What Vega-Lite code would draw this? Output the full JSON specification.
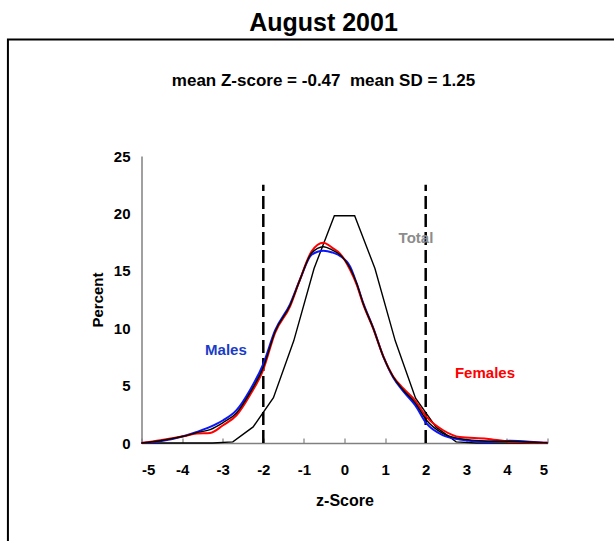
{
  "$schema": "https://vega.github.io/schema/vega-lite/v6.json",
  "width": 406,
  "height": 287,
  "autosize": {"type": "none"},
  "padding": {"left": 141.5, "top": 156, "right": 66.5, "bottom": 98},
  "background": "white",
  "config": {"view": {"stroke": null}, "font": "Liberation Sans"},
  "title": {
    "text": "August 2001",
    "subtitle": "mean Z-score = -0.47\u00a0 mean SD = 1.25",
    "anchor": "middle",
    "frame": "group",
    "dx": -21,
    "font": "Liberation Sans",
    "fontSize": 25,
    "fontWeight": "bold",
    "color": "black",
    "subtitleFont": "Liberation Sans",
    "subtitleFontSize": 17,
    "subtitleFontWeight": "bold",
    "subtitleColor": "black",
    "subtitlePadding": 37,
    "offset": -50
  },
  "datasets": {
    "frame": [{"x": -8.29, "x2": 10, "y": 35.14, "y2": -15}],
    "cut": [{"z": -2, "bottom": 0, "top": 22.5}, {"z": 2, "bottom": 0, "top": 22.5}],
    "normal": [
      {"z": -5, "pct": 0}, {"z": -3.25, "pct": 0}, {"z": -2.75, "pct": 0.1},
      {"z": -2.25, "pct": 1.4}, {"z": -1.75, "pct": 3.95}, {"z": -1.25, "pct": 8.9},
      {"z": -0.75, "pct": 15.2}, {"z": -0.25, "pct": 19.8}, {"z": 0.25, "pct": 19.8},
      {"z": 0.75, "pct": 15.2}, {"z": 1.25, "pct": 8.9}, {"z": 1.75, "pct": 3.9},
      {"z": 2.25, "pct": 1.4}, {"z": 2.75, "pct": 0.1}, {"z": 3.25, "pct": 0}, {"z": 5, "pct": 0}
    ],
    "curves": [
      {"z": -5, "M": 0.0, "F": 0.0, "T": 0.0},
      {"z": -4.54, "M": 0.15, "F": 0.24, "T": 0.2},
      {"z": -3.97, "M": 0.59, "F": 0.59, "T": 0.59},
      {"z": -3.64, "M": 0.96, "F": 0.82, "T": 0.9},
      {"z": -3.31, "M": 1.4, "F": 0.87, "T": 1.17},
      {"z": -2.99, "M": 1.98, "F": 1.55, "T": 1.78},
      {"z": -2.66, "M": 2.86, "F": 2.42, "T": 2.62},
      {"z": -2.33, "M": 4.6, "F": 4.17, "T": 4.37},
      {"z": -2.0, "M": 6.9, "F": 6.4, "T": 6.6},
      {"z": -1.71, "M": 9.8, "F": 9.6, "T": 9.7},
      {"z": -1.34, "M": 12.1, "F": 11.9, "T": 12.0},
      {"z": -1.1, "M": 14.2, "F": 14.2, "T": 14.2},
      {"z": -0.81, "M": 16.4, "F": 16.7, "T": 16.55},
      {"z": -0.52, "M": 16.75, "F": 17.45, "T": 17.1},
      {"z": -0.3, "M": 16.6, "F": 17.0, "T": 16.8},
      {"z": -0.11, "M": 16.3, "F": 16.5, "T": 16.4},
      {"z": 0.14, "M": 15.36, "F": 15.07, "T": 15.2},
      {"z": 0.3, "M": 13.9, "F": 13.8, "T": 13.9},
      {"z": 0.46, "M": 12.2, "F": 12.1, "T": 12.16},
      {"z": 0.71, "M": 10.0, "F": 9.95, "T": 9.98},
      {"z": 0.96, "M": 7.5, "F": 7.5, "T": 7.5},
      {"z": 1.2, "M": 5.7, "F": 5.8, "T": 5.76},
      {"z": 1.45, "M": 4.5, "F": 4.75, "T": 4.6},
      {"z": 1.74, "M": 3.3, "F": 3.7, "T": 3.5},
      {"z": 2.02, "M": 1.7, "F": 2.27, "T": 1.98},
      {"z": 2.43, "M": 0.67, "F": 1.11, "T": 0.82},
      {"z": 2.84, "M": 0.3, "F": 0.52, "T": 0.38},
      {"z": 3.5, "M": 0.09, "F": 0.38, "T": 0.18},
      {"z": 4.08, "M": 0.2, "F": 0.12, "T": 0.15},
      {"z": 4.91, "M": 0.03, "F": 0.03, "T": 0.03},
      {"z": 5, "M": 0.02, "F": 0.02, "T": 0.02}
    ],
    "labels": [
      {"z": -2.92, "pct": 8.07, "text": "Males", "col": "#1a3cc8"},
      {"z": 3.46, "pct": 6.08, "text": "Females", "col": "#ff0000"},
      {"z": 1.76, "pct": 17.86, "text": "Total", "col": "#8c8c8c"}
    ]
  },
  "layer": [
    {
      "data": {"name": "frame"},
      "mark": {"type": "rect", "fill": "white", "fillOpacity": 0, "stroke": "black", "strokeWidth": 2, "clip": false},
      "encoding": {
        "x": {"field": "x", "type": "quantitative", "scale": {"domain": [-5, 5], "nice": false, "zero": false},
          "axis": {"values": [-5, -4, -3, -2, -1, 0, 1, 2, 3, 4, 5], "labelExpr": "'' + datum.value", "title": "z-Score", "grid": false,
            "domainColor": "#808080", "domainWidth": 1.5, "tickColor": "#808080", "tickSize": -5, "tickWidth": 1.2,
            "labelFont": "Liberation Sans", "labelFontSize": 15, "labelFontWeight": "bold", "labelColor": "black", "labelPadding": 24,
            "titleFont": "Liberation Sans", "titleFontSize": 16, "titleFontWeight": "bold", "titleColor": "black", "titlePadding": 15}},
        "x2": {"field": "x2"},
        "y": {"field": "y", "type": "quantitative", "scale": {"domain": [0, 25], "nice": false, "zero": true},
          "axis": {"values": [0, 5, 10, 15, 20, 25], "title": "Percent", "grid": false, "ticks": false,
            "domainColor": "#808080", "domainWidth": 1.5, "labelPadding": 11.5,
            "labelFont": "Liberation Sans", "labelFontSize": 15, "labelFontWeight": "bold", "labelColor": "black",
            "titleFont": "Liberation Sans", "titleFontSize": 15, "titleFontWeight": "bold", "titleColor": "black", "titlePadding": 8}},
        "y2": {"field": "y2"}
      }
    },
    {
      "data": {"name": "cut"},
      "mark": {"type": "rule", "color": "black", "strokeWidth": 2.5, "strokeDash": [13, 5]},
      "encoding": {
        "x": {"field": "z", "type": "quantitative"},
        "y": {"field": "bottom", "type": "quantitative"},
        "y2": {"field": "top"}
      }
    },
    {
      "data": {"name": "normal"},
      "mark": {"type": "line", "color": "black", "strokeWidth": 1.4, "interpolate": "linear"},
      "encoding": {
        "x": {"field": "z", "type": "quantitative"},
        "y": {"field": "pct", "type": "quantitative"}
      }
    },
    {
      "data": {"name": "curves"},
      "mark": {"type": "line", "color": "#0a14ff", "strokeWidth": 2, "interpolate": "monotone"},
      "encoding": {
        "x": {"field": "z", "type": "quantitative"},
        "y": {"field": "M", "type": "quantitative"}
      }
    },
    {
      "data": {"name": "curves"},
      "mark": {"type": "line", "color": "#ff0000", "strokeWidth": 2, "interpolate": "monotone"},
      "encoding": {
        "x": {"field": "z", "type": "quantitative"},
        "y": {"field": "F", "type": "quantitative"}
      }
    },
    {
      "data": {"name": "curves"},
      "mark": {"type": "line", "color": "black", "strokeWidth": 1.4, "interpolate": "monotone"},
      "encoding": {
        "x": {"field": "z", "type": "quantitative"},
        "y": {"field": "T", "type": "quantitative"}
      }
    },
    {
      "data": {"name": "labels"},
      "mark": {"type": "text", "font": "Liberation Sans", "fontSize": 15, "fontWeight": "bold", "align": "center", "baseline": "middle"},
      "encoding": {
        "x": {"field": "z", "type": "quantitative"},
        "y": {"field": "pct", "type": "quantitative"},
        "text": {"field": "text"},
        "color": {"field": "col", "type": "nominal", "scale": null}
      }
    }
  ]
}
